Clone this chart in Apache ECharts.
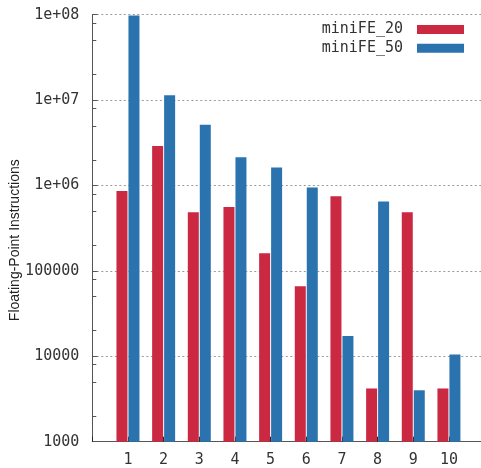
<!DOCTYPE html>
<html>
<head>
<meta charset="utf-8">
<script src="https://cdn.jsdelivr.net/npm/echarts@6/dist/echarts.min.js"></script>
<style>
  html, body { margin: 0; padding: 0; background: #ffffff; }
  #chart { width: 481px; height: 468px; }
</style>
</head>
<body>
<div id="chart"></div>
<script>
// ---- data ----
const categories = ['1', '2', '3', '4', '5', '6', '7', '8', '9', '10'];
const seriesNames = ['miniFE_20', 'miniFE_50'];
const miniFE20 = [860000, 2900000, 485000, 560000, 161000, 66000, 750000, 4200, 485000, 4200];
const miniFE50 = [98000000, 11400000, 5150000, 2140000, 1620000, 950000, 17300, 650000, 4000, 10500];
const yTickValues = [1000, 10000, 100000, 1000000, 10000000, 100000000];
const yTickLabels = ['1000', '10000', '100000', '1e+06', '1e+07', '1e+08'];
const yMinorTicks = [2000, 5000, 8000, 20000, 50000, 80000, 200000, 500000, 800000,
                     2000000, 5000000, 8000000, 20000000, 50000000, 80000000];
const yAxisTitle = 'Floating-Point Instructions';

const monoFont = '"DejaVu Sans Mono", "Liberation Mono", monospace';
const textColor = '#333333';
const axisColor = '#555555';

const chart = echarts.init(document.getElementById('chart'), null, { renderer: 'canvas' });

// x range runs from 0 to 11 (gnuplot style): pad with empty slots at both ends
const axisCats = [''].concat(categories, ['']);
function padded(vals) { return [null].concat(vals, [null]); }

const option = {
  animation: false,
  backgroundColor: '#ffffff',
  grid: { left: 92.3, right: -3.6, top: 14.7, bottom: 26.3, containLabel: false, outerBoundsMode: 'none' },
  legend: {
    data: seriesNames,
    orient: 'vertical',
    right: 17,
    top: 22,
    padding: 0,
    align: 'right',
    icon: 'rect',
    itemWidth: 47,
    itemHeight: 9,
    itemGap: 3.7,
    textStyle: { fontFamily: monoFont, fontSize: 15, color: textColor, lineHeight: 14, padding: [0, 9, 0, 0] }
  },
  xAxis: {
    type: 'category',
    data: axisCats,
    boundaryGap: false,
    axisLine: { show: true, lineStyle: { color: axisColor, width: 1 } },
    axisTick: { show: true, inside: true, length: 5, lineStyle: { color: '#222' } },
    splitLine: { show: false },
    axisLabel: { fontFamily: monoFont, fontSize: 15, color: textColor, margin: 11, interval: 0 }
  },
  yAxis: [{
    type: 'log',
    logBase: 10,
    min: 1000,
    max: 100000000,
    interval: 1,
    name: yAxisTitle,
    nameLocation: 'middle',
    nameGap: 70,
    nameMoveOverlap: false,
    nameTextStyle: { fontFamily: '"Liberation Sans", Arial, sans-serif', fontSize: 14, color: '#222', padding: [0, 24, 0, 0] },
    axisLine: { show: true, lineStyle: { color: axisColor, width: 1 } },
    axisTick: { show: true, inside: true, length: 5, lineStyle: { color: axisColor } },
    splitLine: { show: true, lineStyle: { color: '#9a9a9a', width: 1, type: [2, 2.5] } },
    axisLabel: {
      fontFamily: monoFont, fontSize: 15, color: textColor, margin: 13,
      formatter: v => {
        const i = yTickValues.findIndex(t => Math.abs(t - v) / t < 1e-6);
        return i >= 0 ? yTickLabels[i] : '';
      }
    }
  }, {
    type: 'log',
    logBase: 10,
    min: 1000,
    max: 100000000,
    position: 'left',
    axisLine: { show: false },
    axisLabel: { show: false },
    splitLine: { show: false },
    axisTick: { show: true, inside: true, length: 4, customValues: yMinorTicks, lineStyle: { color: axisColor } }
  }],
  series: [{
    name: seriesNames[0],
    type: 'bar',
    data: padded(miniFE20),
    barWidth: 11,
    barGap: '9%',
    itemStyle: { color: '#CA2941' }
  }, {
    name: seriesNames[1],
    type: 'bar',
    data: padded(miniFE50),
    barWidth: 11,
    barGap: '9%',
    itemStyle: { color: '#2A73AF' }
  }]
};

chart.setOption(option);
</script>
</body>
</html>
